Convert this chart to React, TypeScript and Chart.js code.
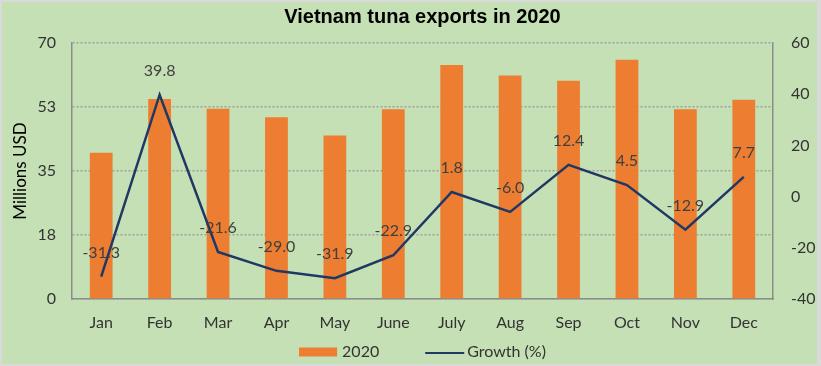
import React, { useEffect, useRef } from "react";
import { Chart, registerables } from "chart.js";

Chart.register(...registerables);

const months = ["Jan", "Feb", "Mar", "Apr", "May", "June", "July", "Aug", "Sep", "Oct", "Nov", "Dec"];
const exports2020 = [40.0, 54.7, 52.0, 49.7, 44.7, 51.9, 64.0, 61.1, 59.7, 65.4, 51.9, 54.5];
const growth = [-31.3, 39.8, -21.6, -29.0, -31.9, -22.9, 1.8, -6.0, 12.4, 4.5, -12.9, 7.7];
const leftTicks = [0, 17.5, 35, 52.5, 70];
const rightTicks = [-40, -20, 0, 20, 40, 60];

const FONT = "Lato";
const BAR_COLOR = "#ED7D31";
const LINE_COLOR = "#203864";
const BG = "#C5E0B4";

const backgroundPlugin = {
  id: "bgFrame",
  beforeDraw(chart: any) {
    const { ctx, width, height } = chart;
    ctx.save();
    ctx.fillStyle = "#d9d9d9";
    ctx.fillRect(0, 0, width, height);
    ctx.fillStyle = BG;
    ctx.fillRect(2, 2, width - 6, height - 4);
    ctx.restore();
  },
};

const labelsPlugin = {
  id: "lineLabels",
  afterDatasetsDraw(chart: any) {
    const { ctx } = chart;
    const meta = chart.getDatasetMeta(1);
    const data = chart.data.datasets[1].data as number[];
    ctx.save();
    ctx.font = `16px ${FONT}`;
    ctx.fillStyle = "#404040";
    ctx.textAlign = "center";
    ctx.textBaseline = "middle";
    meta.data.forEach((pt: any, i: number) => {
      ctx.fillText(data[i].toFixed(1), pt.x, pt.y - 24);
    });
    ctx.restore();
  },
};

const legendPlugin = {
  id: "customLegend",
  afterDraw(chart: any) {
    const { ctx, chartArea } = chart;
    const ds = chart.data.datasets;
    ctx.save();
    ctx.font = `16px ${FONT}`;
    ctx.textBaseline = "middle";
    ctx.textAlign = "left";
    const y = 352;
    const boxW = 38;
    const t1 = ds[0].label;
    const t2 = ds[1].label;
    const w1 = ctx.measureText(t1).width;
    const w2 = ctx.measureText(t2).width;
    const total = boxW + 5 + w1 + 46 + 39 + 3 + w2;
    let x = (chartArea.left + chartArea.right) / 2 - total / 2;
    ctx.fillStyle = ds[0].backgroundColor;
    ctx.fillRect(x, y - 4.5, boxW, 9);
    x += boxW + 5;
    ctx.fillStyle = "#333";
    ctx.fillText(t1, x, y);
    x += w1 + 46;
    ctx.strokeStyle = ds[1].borderColor;
    ctx.lineWidth = 2;
    ctx.beginPath();
    ctx.moveTo(x, y + 1);
    ctx.lineTo(x + 39, y + 1);
    ctx.stroke();
    x += 39 + 3;
    ctx.fillText(t2, x, y);
    ctx.restore();
  },
};

export default function App() {
  const ref = useRef<HTMLCanvasElement>(null);

  useEffect(() => {
    if (!ref.current) return;
    const chart = new Chart(ref.current, {
      type: "bar",
      data: {
        labels: months,
        datasets: [
          {
            type: "bar",
            label: "2020",
            data: exports2020,
            backgroundColor: BAR_COLOR,
            yAxisID: "y",
            categoryPercentage: 1,
            barPercentage: 0.39,
            order: 2,
          },
          {
            type: "line",
            label: "Growth (%)",
            data: growth,
            borderColor: LINE_COLOR,
            backgroundColor: LINE_COLOR,
            borderWidth: 2.5,
            pointRadius: 0,
            tension: 0,
            yAxisID: "y1",
            order: 1,
          },
        ],
      } as any,
      options: {
        responsive: false,
        animation: false,
        layout: { padding: { left: 0, right: 0, top: 0, bottom: 30 } },
        plugins: {
          legend: { display: false },
          tooltip: { enabled: false },
          title: {
            display: true,
            fullSize: false,
            text: "Vietnam tuna exports in 2020",
            color: "#000",
            font: { family: "Liberation Sans", size: 20, weight: "bold" },
            padding: { top: 5, bottom: 14 },
          },
        },
        scales: {
          x: {
            offset: true,
            grid: { display: false, drawTicks: false },
            border: { display: true, color: "#8c8c8c", width: 1.5 },
            ticks: { color: "#333", font: { family: FONT, size: 16 }, padding: 14 },
            afterFit: (s: any) => { s.height = 37; },
          },
          y: {
            position: "left",
            min: 0,
            max: 70,
            afterBuildTicks: (s: any) => { s.ticks = leftTicks.map((v) => ({ value: v })); },
            ticks: {
              color: "#333",
              font: { family: FONT, size: 16 },
              padding: 16,
              callback: (v: any) => String(Math.round(Number(v))),
            },
            grid: { color: "#a0a0a0", lineWidth: 1.5, drawTicks: false },
            border: { display: true, color: "#8c8c8c", width: 1.5, dash: [2, 2] },
            title: {
              display: true,
              text: "Millions USD",
              color: "#000",
              font: { family: FONT, size: 17 },
              padding: { top: 10, bottom: 0 },
            },
            afterFit: (s: any) => { s.width = 72; },
          },
          y1: {
            position: "right",
            min: -40,
            max: 60,
            afterBuildTicks: (s: any) => { s.ticks = rightTicks.map((v) => ({ value: v })); },
            ticks: { color: "#333", font: { family: FONT, size: 16 }, padding: 18 },
            grid: { drawOnChartArea: false, drawTicks: false },
            border: { display: true, color: "#8c8c8c", width: 1.5 },
            afterFit: (s: any) => { s.width = 48; },
          },
        },
      } as any,
      plugins: [backgroundPlugin, labelsPlugin, legendPlugin],
    });
    return () => chart.destroy();
  }, []);

  return (
    <div style={{ position: "absolute", left: 0, top: 0, width: 821, height: 366 }}>
      <canvas ref={ref} width={821} height={366} />
    </div>
  );
}
